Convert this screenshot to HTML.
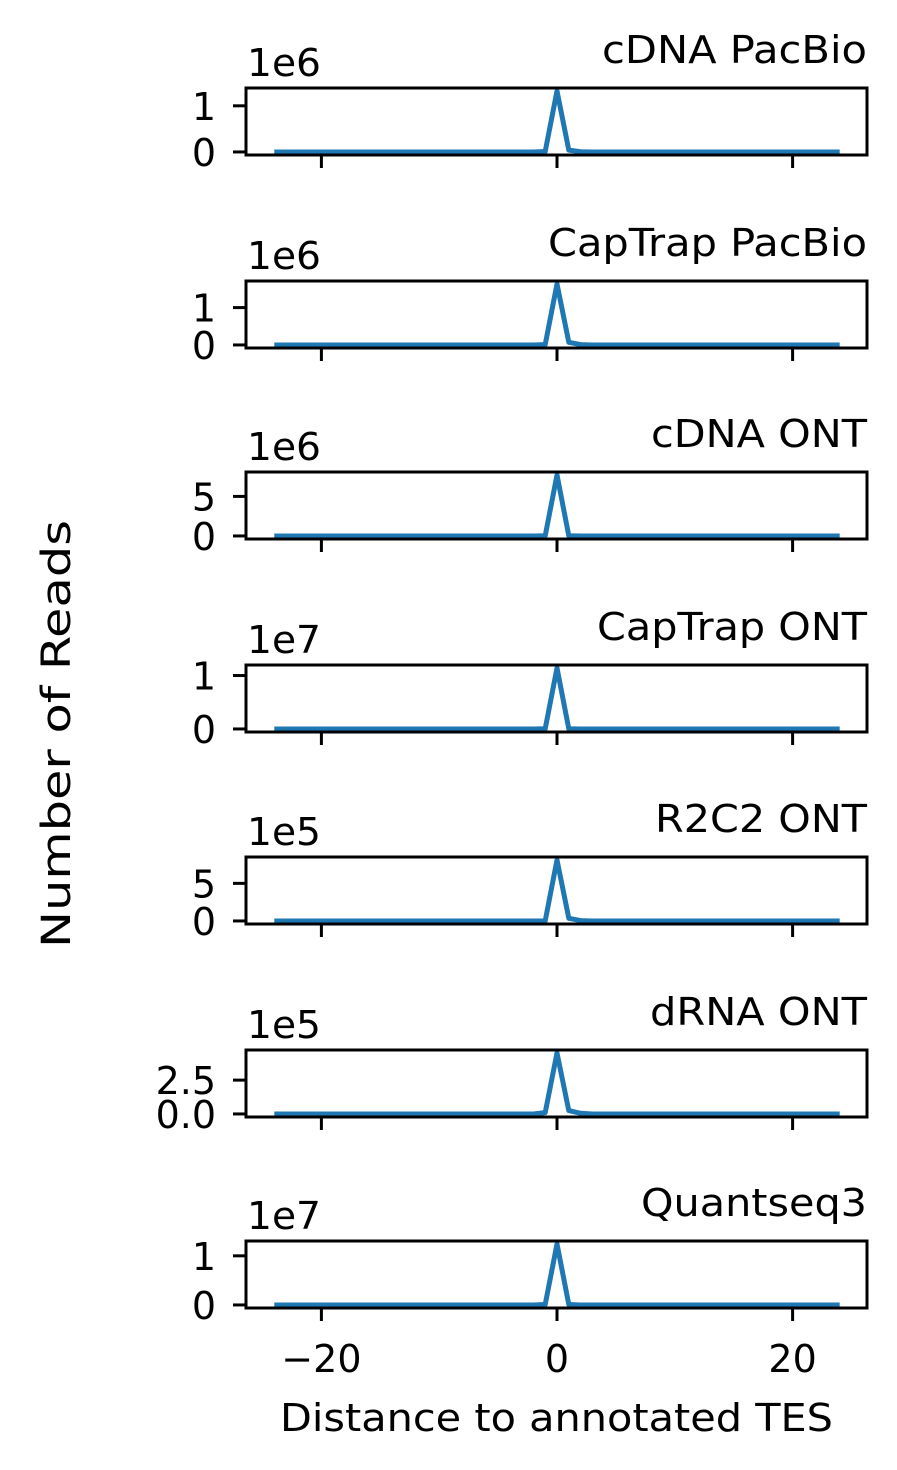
<!DOCTYPE html>
<html><head><meta charset="utf-8"><style>
html,body{margin:0;padding:0;background:#fff}
svg{display:block;font-family:"DejaVu Sans","Liberation Sans",sans-serif}
</style></head><body>
<svg id="chart" width="897" height="1470" viewBox="0 0 897 1470"></svg>
<script>
const xValues = [];
for (let i = -24; i <= 24; i++) xValues.push(i);
const panelTitles = ["cDNA PacBio","CapTrap PacBio","cDNA ONT","CapTrap ONT","R2C2 ONT","dRNA ONT","Quantseq3"];
const offsetLabels = ["1e6","1e6","1e6","1e7","1e5","1e5","1e7"];
const peakValues = [1.32e6,1.63e6,7.7e6,1.14e7,8.1e5,4.5e5,1.24e7];
const nearValues = [
  [0.01e6,0.04e6,0.005e6],
  [0.01e6,0.07e6,0.01e6],
  [0.02e6,0.02e6,0.0],
  [0.02e6,0.02e6,0.0],
  [0.01e5,0.35e5,0.05e5],
  [0.1e5,0.25e5,0.05e5],
  [0.01e7,0.01e7,0.0]
];
const yTickValues = [[0,1e6],[0,1e6],[0,5e6],[0,1e7],[0,5e5],[0,2.5e5],[0,1e7]];
const yTickLabels = [["0","1"],["0","1"],["0","5"],["0","1"],["0","5"],["0.0","2.5"],["0","1"]];
const xTicks = [-20,0,20];
const xTickLabels = ["−20","0","20"];
const titleWidths = [265,319,216,270,212,217,226];

const NS = "http://www.w3.org/2000/svg";
const svg = document.getElementById("chart");
function mk(tag, attrs, parent){const e=document.createElementNS(NS,tag);for(const k in attrs)e.setAttribute(k,attrs[k]);(parent||svg).appendChild(e);return e;}
const L=246,R=867,H=67,tops=[88,281,472,665,857,1050,1241];
const FS=38;
const xS = v => 557 + v*11.78;

panelTitles.forEach((title,p)=>{
  const top=tops[p],bot=top+H,M=peakValues[p];
  const ymin=-0.05*M,ymax=1.05*M;
  const yS=v=>bot-(v-ymin)/(ymax-ymin)*H;
  const g=mk("g",{});
  
  
  const series=xValues.map(x=>{
    if(x===0) return M;
    if(x===-1) return nearValues[p][0];
    if(x===1) return nearValues[p][1];
    if(x===2) return nearValues[p][2];
    return 0;
  });
  const pts=xValues.map((x,i)=>xS(x).toFixed(1)+","+yS(series[i]).toFixed(1)).join(" ");
  const line=mk("polyline",{points:pts,fill:"none",stroke:"#1f77b4","stroke-width":5,"stroke-linejoin":"round"},g);
  
  
  const frame=mk("rect",{x:L,y:top,width:R-L,height:H,fill:"none",stroke:"#000","stroke-width":3},g);
  
  
  yTickValues[p].forEach((v,i)=>{
    const y=yS(v);
    mk("line",{x1:L-13,x2:L,y1:y,y2:y,stroke:"#000","stroke-width":3},g);
    const t=mk("text",{x:L-30,y:y+14,"text-anchor":"end","font-size":FS},g);
    t.textContent=yTickLabels[p][i];
    
    
  });
  xTicks.forEach((v,i)=>{
    mk("line",{x1:xS(v),x2:xS(v),y1:bot,y2:bot+13,stroke:"#000","stroke-width":3},g);
    if(p===panelTitles.length-1){
      const t=mk("text",{x:xS(v),y:bot+64,"text-anchor":"middle","font-size":FS},g);
      t.textContent=xTickLabels[i];
      
      
    }
  });
  const o=mk("text",{x:L+1,y:top-12,"font-size":FS,textLength:74,lengthAdjust:"spacingAndGlyphs"},g);
  o.textContent=offsetLabels[p];
  
  
  const tt=mk("text",{x:R-titleWidths[p],y:top-25,"font-size":FS,textLength:titleWidths[p],lengthAdjust:"spacingAndGlyphs"},g);
  tt.textContent=title;
  
  
});
const xl=mk("text",{x:280,y:1431,"font-size":FS,textLength:553,lengthAdjust:"spacingAndGlyphs"});
xl.textContent="Distance to annotated TES";


const yl=mk("text",{x:-428/2,y:0,"font-size":40,textLength:428,lengthAdjust:"spacingAndGlyphs",transform:"translate(70,734) rotate(-90)"});
yl.textContent="Number of Reads";


</script>
</body></html>
